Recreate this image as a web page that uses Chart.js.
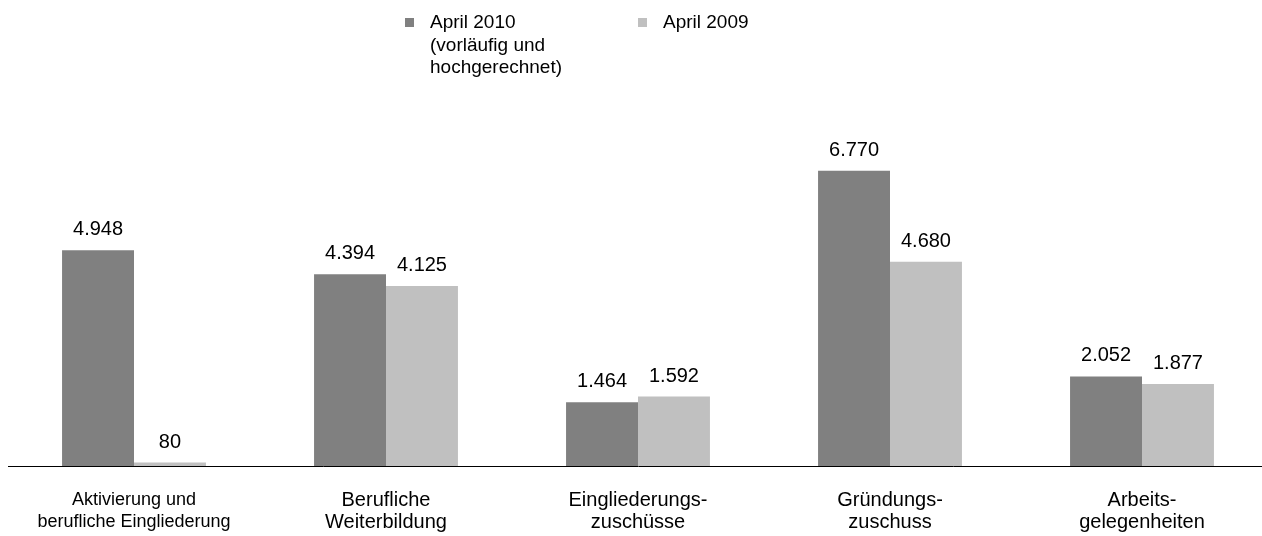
<!DOCTYPE html>
<html>
<head>
<meta charset="utf-8">
<script src="https://cdn.jsdelivr.net/npm/chart.js@4"></script>
<style>
  html, body { margin: 0; padding: 0; background: #fff; overflow: hidden; }
  #wrap { position: relative; width: 1262px; height: 536px; overflow: hidden; }
  #chart { position: absolute; left: 0; top: 0; }
  .legend-item { position: absolute; top: 11px; font: 19px/22.5px "Liberation Sans", Arial, sans-serif; color: #000; }
  .legend-item .box { position: absolute; left: -25px; top: 7px; width: 9px; height: 9px; }
</style>
</head>
<body>
<div id="wrap">
  <canvas id="chart" width="1270" height="562"></canvas>
  <div class="legend-item" id="leg0" style="left:430px"><span class="box"></span><span class="txt"></span></div>
  <div class="legend-item" id="leg1" style="left:663px"><span class="box"></span><span class="txt"></span></div>
</div>
<script>
  "use strict";

  // categories (multi-line labels)
  var categories = [
    ['Aktivierung und', 'berufliche Eingliederung'],
    ['Berufliche', 'Weiterbildung'],
    ['Eingliederungs-', 'zuschüsse'],
    ['Gründungs-', 'zuschuss'],
    ['Arbeits-', 'gelegenheiten']
  ];

  // series
  var seriesNames = [
    ['April 2010', '(vorläufig und', 'hochgerechnet)'],
    ['April 2009']
  ];
  var april2010 = [4948, 4394, 1464, 6770, 2052];
  var april2009 = [80, 4125, 1592, 4680, 1877];
  var seriesColors = ['#808080', '#c0c0c0'];

  // german thousands separator
  function fmt(n) {
    return String(n).replace(/\B(?=(\d{3})+(?!\d))/g, '.');
  }

  // html legend
  seriesNames.forEach(function(lines, i) {
    var el = document.getElementById('leg' + i);
    el.querySelector('.box').style.background = seriesColors[i];
    el.querySelector('.txt').innerHTML = lines.join('<br>');
  });

  /*value labels above bars*/
  var valueLabels = {
    id: 'valueLabels',
    afterDatasetsDraw: function(chart) {
      var ctx = chart.ctx;
      ctx.save();
      ctx.font = '20px "Liberation Sans", Arial, sans-serif';
      ctx.fillStyle = '#000';
      ctx.textAlign = 'center';
      ctx.textBaseline = 'alphabetic';
      chart.data.datasets.forEach(function(ds, i) {
        chart.getDatasetMeta(i).data.forEach(function(bar, j) {
          ctx.fillText(fmt(ds.data[j]), bar.x, bar.y - 15);
        });
      });
      ctx.restore();
    }
  };

  var ctx = document.getElementById('chart').getContext('2d');
  var chart = new Chart(ctx, {
    type: 'bar',
    data: {
      labels: categories,
      datasets: [{
          label: seriesNames[0].join(' '),
          backgroundColor: seriesColors[0],
          data: april2010
        },
        {
          label: seriesNames[1].join(' '),
          backgroundColor: seriesColors[1],
          data: april2009
        }
      ]
    },
    options: {
      responsive: false,
      animation: false,
      layout: {
        padding: { left: 8, right: 2, top: 117, bottom: 6 }
      },
      datasets: {
        bar: {
          categoryPercentage: 0.571,
          barPercentage: 1.0
        }
      },
      plugins: {
        legend: { display: false },
        tooltip: { enabled: false }
      },
      scales: {
        x: {
          grid: { display: false, drawTicks: false },
          border: { display: true, color: '#000', width: 1 },
          ticks: {
            color: '#000',
            padding: 23,
            maxRotation: 0,
            autoSkip: false,
            // first label is squeezed narrower in the original
            font: function(c) {
              return {
                family: '"Liberation Sans", Arial, sans-serif',
                size: c.index === 0 ? 18 : 20,
                lineHeight: c.index === 0 ? 22 / 18 : 1.1
              };
            }
          }
        },
        y: {
          display: false,
          min: 0,
          max: 8000
        }
      }
    },
    plugins: [valueLabels]
  });
</script>
</body>
</html>
